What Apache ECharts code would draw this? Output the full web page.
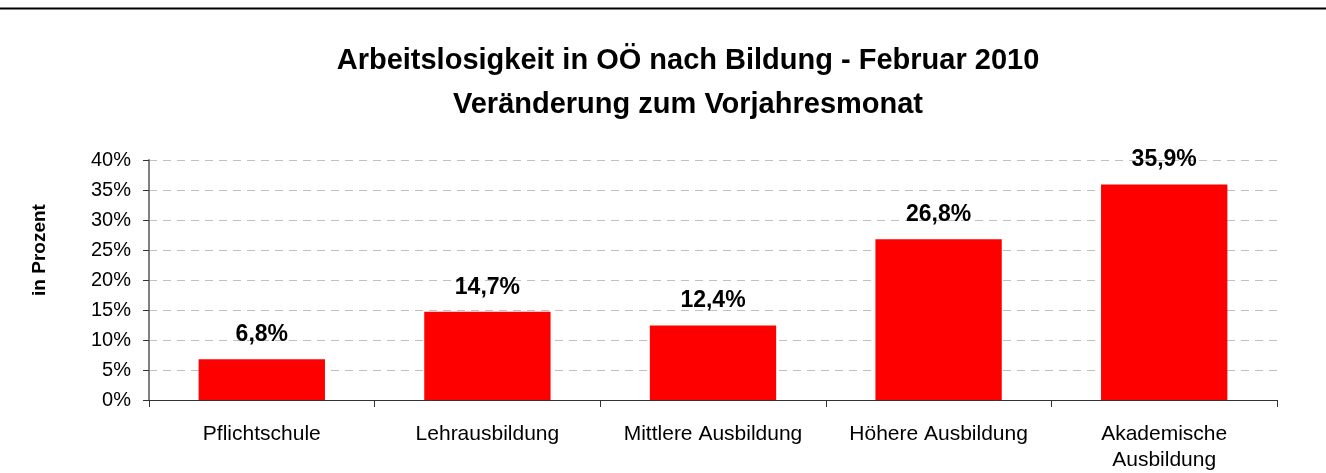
<!DOCTYPE html>
<html><head><meta charset="utf-8">
<script src="https://cdn.jsdelivr.net/npm/echarts@6/dist/echarts.min.js"></script>
<style>html,body{margin:0;padding:0;background:#fff}#c{width:1326px;height:473px}</style>
</head><body><div id="c"></div>
<script>
const categories = ['Pflichtschule', 'Lehrausbildung', 'Mittlere Ausbildung', 'Höhere Ausbildung', 'Akademische\nAusbildung'];
const values = [6.8, 14.7, 12.4, 26.8, 35.9];
const titleLines = ['Arbeitslosigkeit in OÖ nach Bildung - Februar 2010', 'Veränderung zum Vorjahresmonat'];
const yAxisName = 'in Prozent';

const chart = echarts.init(document.getElementById('c'), null, {renderer: 'canvas'});
const F = '"Liberation Sans", Arial, sans-serif';
chart.setOption({
  animation: false,
  title: {
    text: titleLines.join('\n'),
    left: 683, top: 34, textAlign: 'center',
    textStyle: {fontFamily: F, fontSize: 29, fontWeight: 'bold', color: '#000', lineHeight: 44}
  },
  graphic: [{
    type: 'line', shape: {x1: 0, y1: 8.5, x2: 1326, y2: 8.5},
    style: {stroke: '#000', lineWidth: 2}
  }, {
    type: 'text', x: 40, y: 250, rotation: Math.PI / 2,
    style: {text: yAxisName, fontFamily: F, fontSize: 19, fontWeight: 'bold', fill: '#000',
            align: 'center', verticalAlign: 'middle'}
  }],
  grid: {left: 149, right: 49, top: 160, bottom: 70, containLabel: false},
  xAxis: {
    type: 'category', data: categories,
    axisLine: {lineStyle: {color: '#333', width: 1}},
    axisTick: {show: true, length: 7, lineStyle: {color: '#333'}},
    axisLabel: {fontFamily: F, fontSize: 21, color: '#000', margin: 21, lineHeight: 26, interval: 0}
  },
  yAxis: {
    type: 'value', min: 0, max: 40, interval: 5,
    axisLine: {show: true, lineStyle: {color: '#808080', width: 2}},
    axisTick: {show: true, length: 6, inside: false, lineStyle: {color: '#333'}},
    axisLabel: {fontFamily: F, fontSize: 20, color: '#000', margin: 18, formatter: '{value}%'},
    splitLine: {lineStyle: {color: '#c0c0c0', type: [8, 6], width: 1}}
  },
  series: [{
    type: 'bar', data: values, barCategoryGap: '44%',
    itemStyle: {color: '#ff0000'},
    label: {
      show: true, position: 'top', distance: 13,
      fontFamily: F, fontSize: 23, fontWeight: 'bold', color: '#000',
      formatter: p => p.value.toFixed(1).replace('.', ',') + '%'
    }
  }]
});
</script></body></html>
